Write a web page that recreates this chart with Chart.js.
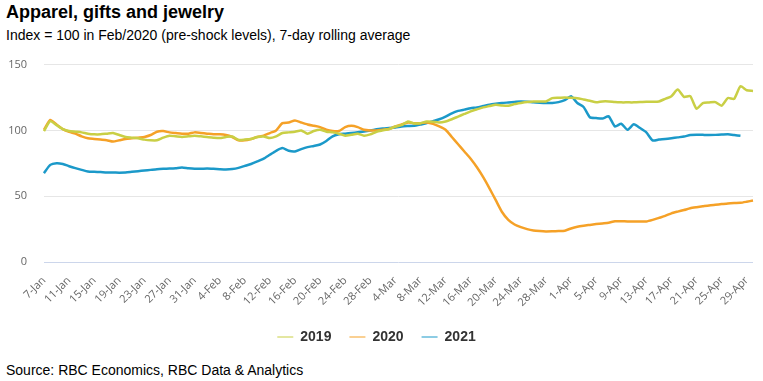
<!DOCTYPE html>
<html>
<head>
<meta charset="utf-8">
<script src="https://cdn.jsdelivr.net/npm/chart.js@4"></script>
<style>
  body { margin: 0; background: #fff; width: 763px; height: 381px; position: relative; overflow: hidden; font-family: "Liberation Sans", Arial, sans-serif; }
  #title { position: absolute; left: 6px; top: 2px; font-size: 18px; font-weight: bold; color: #000; }
  #subtitle { position: absolute; left: 6px; top: 27px; font-size: 14px; color: #000; }
  #source { position: absolute; left: 6px; top: 362px; font-size: 14px; color: #000; }
  #chart { position: absolute; left: 0; top: 41px; }
</style>
</head>
<body>
<div id="title">Apparel, gifts and jewelry</div>
<div id="subtitle">Index = 100 in Feb/2020 (pre-shock levels), 7-day rolling average</div>
<canvas id="chart" width="763" height="319"></canvas>
<div id="source">Source: RBC Economics, RBC Data &amp; Analytics</div>
<script>
// daily labels, 7-Jan to 30-Apr
var months = ['Jan', 'Feb', 'Mar', 'Apr'];
var monthDays = [31, 28, 31, 30];
var labels = [];
for (var m = 0; m < months.length; m++) {
  for (var d = (m == 0 ? 7 : 1); d <= monthDays[m]; d++) {
    labels.push(d + '-' + months[m]);
  }
}

var yTicks = [0, 50, 100, 150];

var s2019 = [99.5,107,104,101,99.5,99,98.5,97.5,97,97,97.5,98,96.5,95,94.5,94,93,92.5,92.5,94.5,
  96,95.5,95,95.5,96,95.5,95,94.5,94.2,95,95.4,92.8,93,93.5,95,95.4,94.2,95.5,98,98.5,
  99,100,97.5,99.5,100.5,99,98.5,97.5,96,96.7,97.5,96,97,99,100,101,103,104,106.8,105.3,
  105.5,106.8,106.5,106,106.8,108.5,110.5,112.5,114.5,116,117.5,118.5,119.5,119,118.8,120,120.8,121.5,122,122,
  122,124.5,124.8,125,124.8,124.5,123.5,122.5,121.3,122,122,121.5,121.3,121.3,121.3,121.5,121.8,121.8,122,124,
  126,131,125.5,126,116.5,120.8,121.2,121.5,118.8,124.6,124,133.5,130.5,130];

var s2020 = [100.5,108,104.5,101,99,97.5,95.5,94,93.5,93,92.5,91.5,92.5,93.5,94,94.5,95,96.5,99,99.5,
  98.5,98,97.5,97.5,98.5,98,97.5,97,97,96.5,95,92.5,92.5,93.5,95,96,98,100,105.5,106,
  107.6,106,104.5,103.5,102.5,100.5,99.5,99.5,102.5,103.5,102.5,100.5,100,100,100.5,101,103,104.5,106,105.5,
  105.5,106,105,103,100.5,95,89.5,84,78.5,72,64.5,56,47,38,32,28.5,26.5,25,24,23.5,
  23.2,23.3,23.5,23.8,25.5,26.8,27.6,28.2,28.8,29.3,29.8,31,31,30.8,30.8,30.7,30.8,32,33.5,35,
  37,38.3,39.5,40.8,41.6,42.3,43,43.5,44,44.5,44.8,45,45.8,46.7];

var s2021 = [67.5,73.8,75.1,74.5,72.8,71.3,70,68.8,68.5,68.3,68,68,67.9,68,68.5,69,69.5,70,70.5,70.8,
  71,71.3,71.8,71.2,70.8,70.8,71,70.8,70.5,70.3,70.6,71.5,73,74.5,76.4,78.5,81.5,84.5,86.6,84.5,
  84,85.8,87.3,88.2,89.3,92,95.5,97,97.5,98,98.6,99.2,100,100.8,101.5,101.8,102.2,103,103.3,103.5,
  104.5,105.5,107,108.5,110.5,113,114.8,115.8,116.8,117.5,118.5,119.5,120.2,120.8,121.2,121.6,122,121.8,121.3,121,
  120.8,120.8,121.5,123,125.9,120.8,117.8,110,109.4,109,110.7,103,105,100.5,104.6,101.8,98.5,92.4,93,93.4,
  94,94.7,95.3,96.5,96.7,96.6,96.5,96.6,96.8,97,96.5,95.9];

Chart.defaults.font.family = '"Open Sans", sans-serif';

const myChart = new Chart("chart", {
  type: 'line',
  data: {
    labels: labels,
    datasets: [
      { label: '2019', data: s2019, borderColor: '#c9cf45', backgroundColor: '#c9cf45' },
      { label: '2020', data: s2020, borderColor: '#f5a127', backgroundColor: '#f5a127' },
      { label: '2021', data: s2021, borderColor: '#1b99c9', backgroundColor: '#1b99c9' }
    ]
  },
  options: {
    responsive: false,
    animation: false,
    layout: { padding: { top: 6, right: 10, bottom: 6, left: 0 } },
    elements: {
      point: { radius: 0 },
      line: { borderWidth: 2.5, tension: 0.2 }
    },
    plugins: {
      legend: {
        position: 'bottom',
        labels: {
          usePointStyle: true,
          pointStyle: 'line',
          pointStyleWidth: 16,
          padding: 18,
          color: '#333',
          font: { family: '"Liberation Sans", Arial, sans-serif', size: 14, weight: 'bold' }
        }
      },
      tooltip: { enabled: false }
    },
    scales: {
      x: {
        offset: false,
        grid: { display: false },
        border: { display: false },
        afterFit: function (scale) { scale.height = 50; },
        ticks: {
          autoSkip: false,
          maxRotation: 45,
          minRotation: 45,
          padding: 4,
          color: '#666',
          font: { size: 11 },
          callback: function (val, i) { return i % 4 == 0 ? labels[i] : null; }
        }
      },
      y: {
        min: 0,
        max: 150,
        afterFit: function (scale) { scale.width = 44; },
        afterBuildTicks: function (scale) { scale.ticks = yTicks.map(function (v) { return { value: v }; }); },
        border: { display: false },
        grid: {
          drawTicks: false,
          color: function (ctx) { return ctx.tick && ctx.tick.value === 0 ? '#ccd6eb' : '#e6e6e6'; }
        },
        ticks: { padding: 17, color: '#666', font: { size: 11 } }
      }
    }
  }
});
</script>
</body>
</html>
